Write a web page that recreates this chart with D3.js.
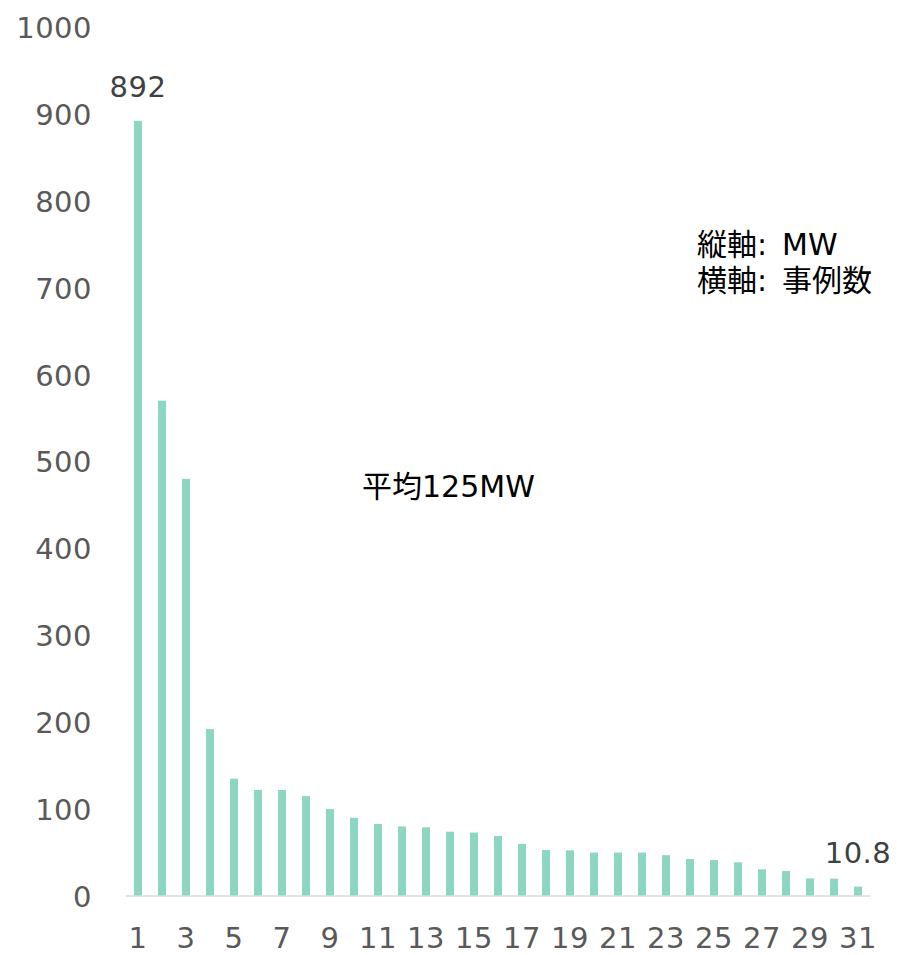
<!DOCTYPE html>
<html>
<head>
<meta charset="utf-8">
<script src="https://cdn.jsdelivr.net/npm/d3@7"></script>
<style>
  body { margin: 0; background: #fff; }
  text { font-family: "DejaVu Sans", "Noto Sans CJK JP", sans-serif; }
</style>
</head>
<body>
<svg width="897" height="955"></svg>
<script>
// 事例番号 1..31
var cases = d3.range(1, 32)
// MW per case
var values = [892, 570, 480, 192, 135, 122, 122, 115, 100, 90,
              83, 80, 79, 74, 73, 69, 60, 53, 52.5, 50,
              50, 50, 47, 42.6, 41.4, 38.8, 30.7, 28.8, 20.3, 20, 10.8]
var yTicks = [0, 100, 200, 300, 400, 500, 600, 700, 800, 900, 1000]
var xTickLabels = cases.filter(d => d % 2 == 1)
var labelled = {1: "892", 31: "10.8"}

var svg = d3.select("svg")

var xScale = d3.scaleBand().domain(cases).range([126, 870]).paddingInner(0.667).paddingOuter(0.333)
var yScale = d3.scaleLinear().domain([0, 1000]).range([896, 27])

// bars
svg.selectAll("rect.bar")
    .data(values)
    .enter()
    .append("rect")
    .attr("class", "bar")
    .attr("x", (d, i) => xScale(cases[i]))
    .attr("width", xScale.bandwidth())
    .attr("y", d => yScale(d))
    .attr("height", d => yScale(0) - yScale(d))
    .attr("fill", "#8dd6c2")

// baseline
svg.append("line")
    .attr("x1", 126).attr("x2", 870)
    .attr("y1", yScale(0)).attr("y2", yScale(0))
    .attr("stroke", "#d9d9d9")
    .attr("stroke-width", 1.5)

// y axis (labels only)
var yAxis = d3.axisLeft(yScale).tickValues(yTicks).tickFormat(d3.format("d")).tickSize(0).tickPadding(0)
var yG = svg.append("g").attr("transform", "translate(92,0)").call(yAxis)
yG.select(".domain").remove()
yG.selectAll("text")
    .attr("font-size", 29)
    .attr("fill", "#595959")
    .attr("dy", "0.36em")
    .style("letter-spacing", "0.5px")
    .style("font-family", "'DejaVu Sans', sans-serif")

// x axis (labels only)
var xAxis = d3.axisBottom(xScale).tickValues(xTickLabels).tickSize(0).tickPadding(0)
var xG = svg.append("g").attr("transform", "translate(0,948)").call(xAxis)
xG.select(".domain").remove()
xG.selectAll("text")
    .attr("font-size", 29)
    .attr("fill", "#595959")
    .attr("dy", 0)
    .style("letter-spacing", "0.5px")
    .style("font-family", "'DejaVu Sans', sans-serif")

// data labels for first and last
svg.selectAll("text.dlabel")
    .data(values.map((v, i) => ({c: cases[i], v: v})).filter(d => labelled[d.c]))
    .enter()
    .append("text")
    .attr("class", "dlabel")
    .attr("x", d => xScale(d.c) + xScale.bandwidth() / 2)
    .attr("y", d => yScale(d.v) - 24)
    .attr("text-anchor", "middle")
    .attr("font-size", 29)
    .attr("fill", "#404040")
    .style("letter-spacing", "0.5px")
    .text(d => labelled[d.c])

// annotations
svg.append("text")
    .attr("x", 362).attr("y", 497)
    .attr("font-size", 30)
    .attr("fill", "#000")
    .text("平均125MW")

var notes = ["縦軸:\u2002MW", "横軸:\u2002事例数"]
svg.selectAll("text.note")
    .data(notes)
    .enter()
    .append("text")
    .attr("class", "note")
    .attr("x", 697)
    .attr("y", (d, i) => 255 + i * 36)
    .attr("font-size", 30)
    .attr("fill", "#000")
    .text(d => d)
</script>
</body>
</html>
